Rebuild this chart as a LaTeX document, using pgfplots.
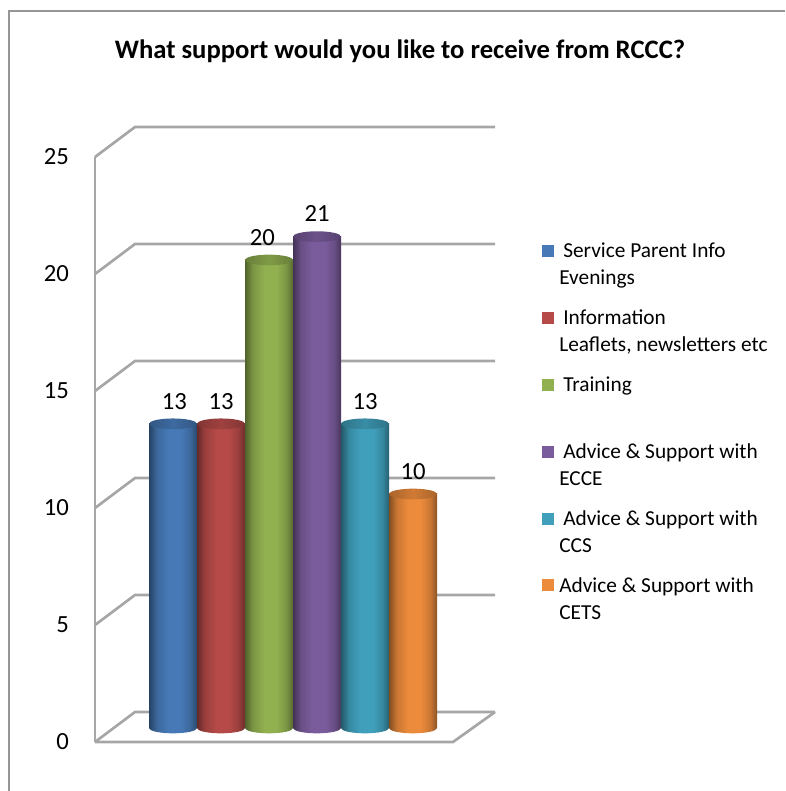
\documentclass[border=0pt]{standalone}
\usepackage{fontspec}
\setmainfont{Carlito}
\usepackage{pgfplots}
\usetikzlibrary{shapes.geometric}
\pgfplotsset{compat=1.18}
\definecolor{gridg}{HTML}{A6A6A6}
\definecolor{frameg}{HTML}{969696}
\definecolor{cA}{HTML}{4679B6}
\definecolor{cB}{HTML}{B54A48}
\definecolor{cC}{HTML}{91B050}
\definecolor{cD}{HTML}{7A5C9C}
\definecolor{cE}{HTML}{40A0BC}
\definecolor{cF}{HTML}{EC8B3C}
\newcommand\mkcyl[1]{%
  \pgfdeclarehorizontalshading{sh#1}{100bp}{color(0bp)=(c#1!55!black); color(25bp)=(c#1!55!black); color(33bp)=(c#1!85!black); color(45bp)=(c#1); color(58bp)=(c#1); color(68bp)=(c#1!85!black); color(75bp)=(c#1!60!black); color(100bp)=(c#1!60!black)}%
  \pgfdeclarehorizontalshading{tp#1}{100bp}{color(0bp)=(c#1!72!black); color(25bp)=(c#1!72!black); color(50bp)=(c#1!88!black); color(75bp)=(c#1!72!black); color(100bp)=(c#1!72!black)}%
}
\mkcyl{A}\mkcyl{B}\mkcyl{C}\mkcyl{D}\mkcyl{E}\mkcyl{F}
\tikzset{ell/.style={shape=ellipse, minimum width=36pt, minimum height=8pt, inner sep=0pt, outer sep=0pt, anchor=center, draw=none, shading=#1}}
% one cylinder: x, value, colour letter, extra label shift
\newcommand\cyl[4]{%
  \addplot[forget plot, only marks, mark=none, yshift=10.5pt, nodes near coords={}, nodes near coords style={ell=sh#3}] coordinates {(#1,0)};
  \addplot[forget plot, ybar, bar shift=0pt, bar width=1, draw=none, shading=sh#3, yshift=10.5pt] coordinates {(#1,#2)};
  \addplot[forget plot, only marks, mark=none, yshift=10.5pt, nodes near coords={}, nodes near coords style={ell=tp#3}] coordinates {(#1,#2)};
  \addplot[forget plot, only marks, mark=none, yshift=10.5pt, nodes near coords, nodes near coords style={font=\fontsize{18.5}{20}\selectfont, text=black, anchor=base, yshift=11pt, xshift=#4}] coordinates {(#1,#2)};
}
\newcommand\wall[1]{%
  \addplot[forget plot, gridg, line width=2pt] coordinates {(-1.625,#1) (-0.7917,#1+1.282) (6.708,#1+1.282)};
}
\begin{document}
\begin{tikzpicture}[x=0.75pt,y=0.75pt]
\useasboundingbox (-95,-49) rectangle (690,742);
\draw[frameg, line width=1.9pt] (-86,-49) -- (-86,731) -- (690,731);
\begin{axis}[
  scale only axis, width=268.5pt, height=438.75pt,
  xmin=-1.625, xmax=5.833, ymin=0, ymax=25,
  clip=false,
  axis x line=none,
  axis y line*=left,
  axis line style={gridg, line width=2pt, -},
  ytick={0,5,10,15,20,25},
  major tick length=0pt,
  /pgf/number format/assume math mode=true,
  yticklabel style={font=\fontsize{18.5}{20}\selectfont, text=black, xshift=-16pt},
  title={\fontsize{20}{22}\selectfont\bfseries What support would you like to receive from RCCC?},
  title style={at={(axis cs:4.73,29.17)}, anchor=center},
  legend style={at={(axis cs:7.6875,21.515)}, anchor=north west, draw=none, fill=none,
    font=\fontsize{16}{20.25}\selectfont, row sep=34.5pt, inner sep=0pt,
    nodes={inner sep=0pt}},
  legend cell align=left,
  legend image code/.code={\fill[#1, draw=none] (0pt,-5.75pt) rectangle (9pt,3.25pt); \path[draw=none, fill=none] (0pt,0pt) -- (12.75pt,0pt);},
]
\wall{0}\wall{5}\wall{10}\wall{15}\wall{20}\wall{25}
\addplot[forget plot, gridg, line width=2pt] coordinates {(-1.625,0) (5.833,0) (6.708,1.282)};
\cyl{0}{13}{A}{1pt}
\cyl{1}{13}{B}{0pt}
\cyl{2}{20}{C}{-5pt}
\cyl{3}{21}{D}{0pt}
\cyl{4}{13}{E}{0pt}
\cyl{5}{10}{F}{0pt}
\addlegendimage{cA}\addlegendentry{\begin{tabular}[t]{@{}l@{}}\hspace{3pt}Service Parent Info\\Evenings\end{tabular}}
\addlegendimage{cB}\addlegendentry{\begin{tabular}[t]{@{}l@{}}\hspace{3pt}Information\\Leaflets, newsletters etc\end{tabular}}
\addlegendimage{cC}\addlegendentry{\begin{tabular}[t]{@{}l@{}}\hspace{3pt}Training\\~\end{tabular}}
\addlegendimage{cD}\addlegendentry{\begin{tabular}[t]{@{}l@{}}\hspace{3pt}Advice \& Support with\\ECCE\end{tabular}}
\addlegendimage{cE}\addlegendentry{\begin{tabular}[t]{@{}l@{}}\hspace{3pt}Advice \& Support with\\CCS\end{tabular}}
\addlegendimage{cF}\addlegendentry{\begin{tabular}[t]{@{}l@{}}Advice \& Support with\\CETS\end{tabular}}
\end{axis}
\end{tikzpicture}
\end{document}
